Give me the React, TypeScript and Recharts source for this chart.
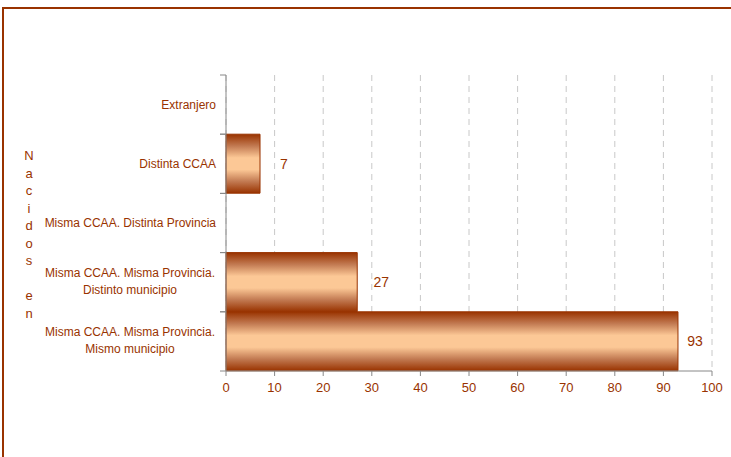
import { BarChart, Bar, XAxis, YAxis, CartesianGrid, LabelList } from "recharts";

// Categories top to bottom, "\n" marks a line break in the tick label
const CATEGORIES = [
    "Extranjero",
    "Distinta CCAA",
    "Misma CCAA. Distinta Provincia",
    "Misma CCAA. Misma Provincia.\nDistinto municipio",
    "Misma CCAA. Misma Provincia.\nMismo municipio",
];
const VALUES: (number | null)[] = [null, 7, null, 27, 93];
const X_TICKS = [0, 10, 20, 30, 40, 50, 60, 70, 80, 90, 100];
const AXIS_TITLE = "Nacidos en";

const BROWN = "#993300";
const FONT = "'Liberation Sans', Arial, sans-serif";

const chartData = CATEGORIES.map((name, i) => ({ name, value: VALUES[i] }));

function CategoryTick(props: any) {
    const { x, y, payload } = props;
    const half = payload?.offset ?? 29.6;
    const axisX = x + 10;
    const lines = String(payload.value).split("\n");
    const multi = lines.length > 1;
    return (
        <g>
            <line x1={axisX - 6} x2={axisX} y1={y - half} y2={y - half} stroke="#888" />
            <line x1={axisX - 6} x2={axisX} y1={y + half} y2={y + half} stroke="#888" />
            <text
                x={multi ? x - 86 : x}
                y={y}
                textAnchor={multi ? "middle" : "end"}
                fill={BROWN}
                fontSize={12}
                fontFamily={FONT}
            >
                {lines.map((l, i) => (
                    <tspan key={i} x={multi ? x - 86 : x} dy={i === 0 ? (multi ? -5 : 4) : 17}>
                        {l}
                    </tspan>
                ))}
            </text>
        </g>
    );
}

function VerticalTitle(props: any) {
    const vb = props.viewBox || { x: 0, y: 75, width: 226, height: 296 };
    const chars = AXIS_TITLE.split("");
    const step = 17.5;
    const start = vb.y + vb.height / 2 - ((chars.length - 1) * step) / 2 + 11;
    return (
        <text textAnchor="middle" fill={BROWN} fontSize={13} fontFamily={FONT}>
            {chars.map((c, i) => (
                <tspan key={i} x={29} y={start + i * step + 5}>
                    {c === " " ? "\u00a0" : c}
                </tspan>
            ))}
        </text>
    );
}

function ValueLabel(props: any) {
    const { x, y, width, height, value } = props;
    if (value == null) return null;
    const cx = Math.min(x + width + 24, 695);
    return (
        <text
            x={cx}
            y={y + height / 2 + 5}
            textAnchor="middle"
            fill={BROWN}
            fontSize={14}
            fontFamily={FONT}
        >
            {value}
        </text>
    );
}

export default function App() {
    return (
        <div style={{ position: "absolute", left: 0, top: 0, width: 731, height: 457, overflow: "hidden", background: "#fff" }}>
            <div
                style={{
                    position: "absolute",
                    left: 2,
                    top: 7,
                    width: 800,
                    height: 600,
                    border: `2px solid ${BROWN}`,
                }}
            />
            <div style={{ position: "absolute", left: 0, top: 0 }}>
                <BarChart
                    width={731}
                    height={457}
                    data={chartData}
                    layout="vertical"
                    barCategoryGap={0}
                    margin={{ top: 75, right: 19, bottom: 0, left: 0 }}
                >
                    <defs>
                        <linearGradient id="barGrad" x1="0" y1="0" x2="0" y2="1">
                            <stop offset="0%" stopColor="#993300" />
                            <stop offset="20%" stopColor="#C27A52" />
                            <stop offset="40%" stopColor="#FCC896" />
                            <stop offset="60%" stopColor="#FCC896" />
                            <stop offset="80%" stopColor="#C27A52" />
                            <stop offset="100%" stopColor="#993300" />
                        </linearGradient>
                    </defs>
                    <CartesianGrid
                        horizontal={false}
                        vertical={true}
                        stroke="#C8C8C8"
                        strokeDasharray="6 5"
                    />
                    <XAxis
                        type="number"
                        domain={[0, 100]}
                        ticks={X_TICKS}
                        height={86}
                        axisLine={{ stroke: "#888" }}
                        tickLine={{ stroke: "#888" }}
                        tickSize={5}
                        tickMargin={7}
                        tick={{ fill: BROWN, fontSize: 13, fontFamily: FONT }}
                        interval={0}
                    />
                    <YAxis
                        type="category"
                        dataKey="name"
                        width={226}
                        axisLine={{ stroke: "#888" }}
                        tickLine={false}
                        tickSize={6}
                        tickMargin={4}
                        tick={<CategoryTick />}
                        interval={0}
                        label={{ content: <VerticalTitle /> }}
                    />
                    <Bar
                        dataKey="value"
                        fill="url(#barGrad)"
                        stroke={BROWN}
                        strokeWidth={1}
                        isAnimationActive={false}
                    >
                        <LabelList dataKey="value" content={<ValueLabel />} />
                    </Bar>
                </BarChart>
            </div>
        </div>
    );
}
